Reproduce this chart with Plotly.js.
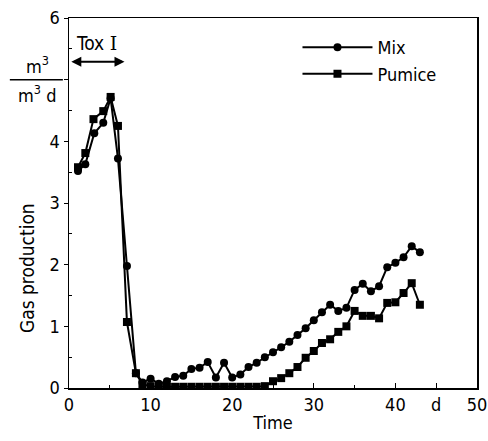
<!DOCTYPE html>
<html><head><meta charset="utf-8">
<script src="https://cdn.plot.ly/plotly-3.0.1.min.js"></script>
<style>html,body{margin:0;padding:0;background:#fff;}#chart{width:488px;height:441px;}</style>
</head><body><div id="chart"></div>
<script>
var mixDays = [1.1,2,3.1,4.2,5.1,6,7.1,8.2,9,10,11,12,13,14,15,16,17,18,19,20,21,22,23,24,25,26,27,28,29,30,31,32,33,34,35,36,37,38,39,40,41,42,43];
var mixVals = [3.52,3.63,4.13,4.3,4.7,3.72,1.98,0.24,0.09,0.15,0.07,0.11,0.18,0.2,0.31,0.33,0.42,0.17,0.41,0.17,0.22,0.34,0.41,0.5,0.58,0.66,0.75,0.86,0.97,1.1,1.23,1.35,1.25,1.3,1.59,1.69,1.57,1.65,1.96,2.03,2.12,2.3,2.2];
var pumDays = [1.1,2,3,4.2,5.1,6,7.1,8.2,9,10,11,12,13,14,15,16,17,18,19,20,21,22,23,24,25,26,27,28,29,30,31,32,33,34,35,36,37,38,39,40,41,42,43];
var pumVals = [3.58,3.81,4.36,4.49,4.72,4.25,1.07,0.24,0.06,0.03,0.02,0.02,0.02,0.02,0.02,0.02,0.02,0.02,0.02,0.02,0.02,0.02,0.02,0.03,0.11,0.16,0.24,0.34,0.49,0.6,0.73,0.79,0.91,1.0,1.25,1.17,1.17,1.13,1.38,1.39,1.54,1.7,1.35];
var xTickVals = [0,10,20,30,40,45,50];
var xTickText = ['0','10','20','30','40','d','50'];
var yTickVals = [0,1,2,3,4,5,6];
var yTickText = ['0','1','2','3','4','','6'];

var FONT = '"DejaVu Sans Condensed","DejaVu Sans",sans-serif';

var traces = [
  {x: mixDays, y: mixVals, name: 'Mix', mode: 'lines+markers', type: 'scatter',
   line: {color: '#000', width: 2}, marker: {symbol: 'circle', size: 8, color: '#000'}},
  {x: pumDays, y: pumVals, name: 'Pumice', mode: 'lines+markers', type: 'scatter',
   line: {color: '#000', width: 2}, marker: {symbol: 'square', size: 8, color: '#000'}}
];

var axBase = {showgrid: false, zeroline: false, showline: true, linecolor: '#000', linewidth: 1.5,
  mirror: true, tickcolor: '#000', ticklen: 5, tickwidth: 1, tickfont: {family: FONT, size: 18, color: '#000'}};

var layout = {
  width: 488, height: 441,
  margin: {l: 69, r: 11, t: 18, b: 53},
  paper_bgcolor: '#fff', plot_bgcolor: '#fff',
  font: {family: FONT, color: '#000'},
  showlegend: true,
  legend: {x: 0.56, y: 0.97, xanchor: 'left', yanchor: 'top', itemwidth: 70,
    font: {family: FONT, size: 18, color: '#000'}, tracegroupgap: 0, bgcolor: 'rgba(0,0,0,0)'},
  xaxis: Object.assign({}, axBase, {range: [0, 50], tickmode: 'array', tickvals: xTickVals, ticktext: xTickText,
    ticks: 'inside', minor: {tickvals: [5,15,25,35], ticks: 'inside', ticklen: 3, tickcolor: '#000'},
    title: {text: 'Time', font: {family: FONT, size: 18, color: '#000'}, standoff: 2}}),
  yaxis: Object.assign({}, axBase, {range: [0, 6], tickmode: 'array', tickvals: yTickVals, ticktext: yTickText,
    ticks: 'outside', ticklen: 4, minor: {tickvals: [0.5,1.5,2.5,3.5,4.5,5.5], ticks: 'inside', ticklen: 3, tickcolor: '#000'}}),
  annotations: [
    {xref: 'paper', yref: 'paper', x: -0.103, y: 0.324, xanchor: 'center', yanchor: 'middle', text: 'Gas production', textangle: -90, showarrow: false,
     font: {family: FONT, size: 19, color: '#000'}},
    {xref: 'paper', yref: 'y', x: -0.078, y: 5.24, text: 'm<sup>3</sup>', showarrow: false, xanchor: 'center', yanchor: 'middle',
     font: {family: FONT, size: 18, color: '#000'}},
    {xref: 'paper', yref: 'y', x: -0.078, y: 4.76, text: 'm<sup>3</sup> d', showarrow: false, xanchor: 'center', yanchor: 'middle',
     font: {family: FONT, size: 18, color: '#000'}},
    {xref: 'x', yref: 'y', x: 0.6, y: 5.6, text: 'Tox <span style="font-family:DejaVu Serif">I</span>', showarrow: false, xanchor: 'left', yanchor: 'middle',
     font: {family: FONT, size: 19, color: '#000'}},
    {xref: 'x', yref: 'y', axref: 'x', ayref: 'y', x: 6.8, y: 5.29, ax: 0.1, ay: 5.29, text: '',
     showarrow: true, arrowside: 'end+start', arrowhead: 2, arrowsize: 1, arrowwidth: 2, arrowcolor: '#000'}
  ],
  shapes: [
    {type: 'line', xref: 'paper', yref: 'y', x0: -0.145, x1: -0.015, y0: 5, y1: 5, line: {color: '#000', width: 1.5}}
  ]
};

Plotly.newPlot('chart', traces, layout, {staticPlot: true, displayModeBar: false});
</script></body></html>
